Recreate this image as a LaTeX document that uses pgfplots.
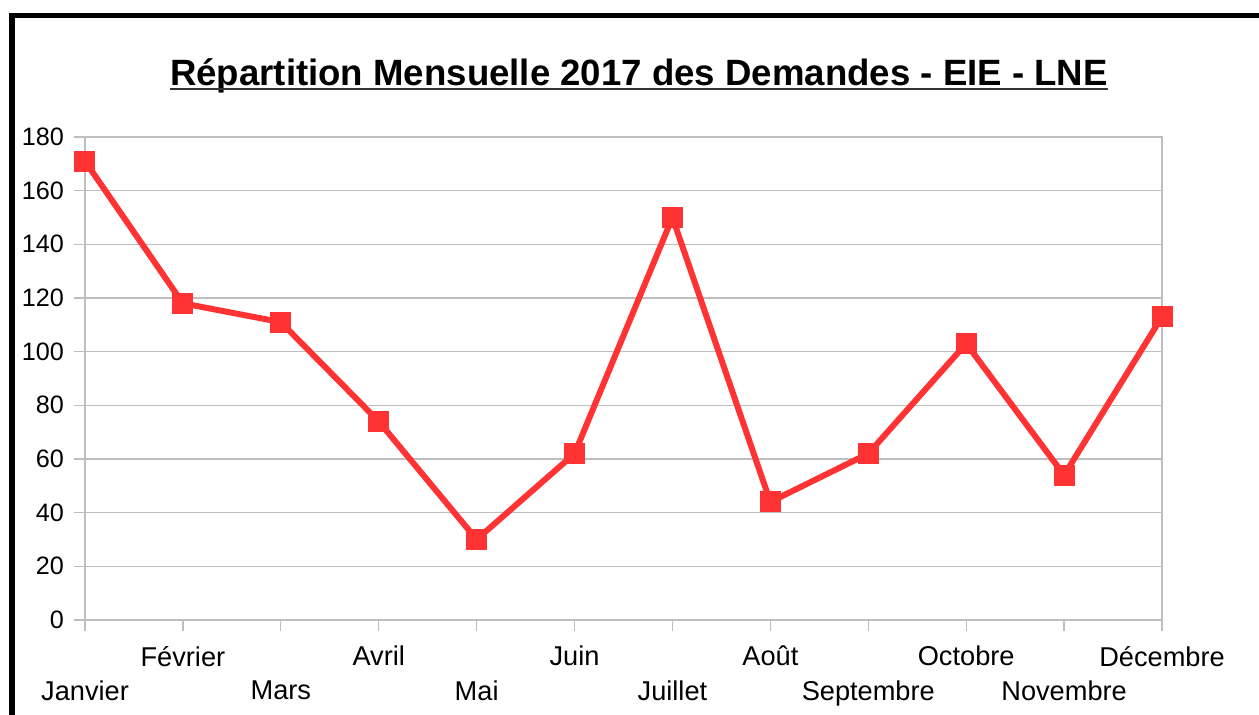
\documentclass[border=0pt]{standalone}
\usepackage{fontspec}
\setmainfont{Liberation Sans}
\usepackage{pgfplots}
\pgfplotsset{compat=1.18}
\definecolor{ser}{RGB}{255,51,51}
\definecolor{gridc}{RGB}{190,190,190}
\begin{document}
\begin{tikzpicture}[x=0.5pt,y=0.5pt]
\useasboundingbox (0,0) rectangle (1259,715);
\fill[white] (0,0) rectangle (1259,715);
\draw[black,line width=2.8pt] (11.7,-200) -- (11.7,715-15.5) -- (1400,715-15.5);
\node[font=\fontsize{18.3}{21}\selectfont\bfseries] at (639,715-76) {Répartition Mensuelle 2017 des Demandes - EIE - LNE};
\draw[black!80, line width=1.1pt] (170,715-89) -- (1108,715-89);
\begin{axis}[
  at={(42.5pt,47.5pt)}, anchor=south west,
  scale only axis, width=538.5pt, height=241.5pt,
  xmin=0, xmax=11, ymin=0, ymax=180,
  ytick={0,20,...,180},
  xtick={1,3,5,7,9,11},
  xticklabels={Février,Avril,Juin,Août,Octobre,Décembre},
  extra x ticks={0,2,4,6,8,10},
  extra x tick labels={Janvier,Mars,Mai,Juillet,Septembre,Novembre},
  extra x tick style={xticklabel style={yshift=-17.5pt}, grid=none},
  xtick pos=bottom, ytick pos=left,
  ymajorgrids, xmajorgrids=false,
  grid style={gridc, line width=0.6pt},
  axis line style={gridc, line width=0.6pt},
  tick style={gridc, line width=0.6pt},
  tick align=outside, major tick length=5.5pt,
  ticklabel style={text=black},
  yticklabel style={font=\fontsize{12.6}{14}\selectfont, xshift=-1.5pt},
  xticklabel style={font=\fontsize{13.6}{15}\selectfont, yshift=-4pt},
  /pgf/number format/assume math mode=true,
  clip=false,
]
\addplot[ser, line width=3pt, mark=square*, mark size=5pt, mark options={solid, fill=ser, draw=ser, line width=0pt}]
coordinates {(0,171) (1,118) (2,111) (3,74) (4,30) (5,62) (6,150) (7,44) (8,62) (9,103) (10,54) (11,113)};
\end{axis}
\end{tikzpicture}
\end{document}
